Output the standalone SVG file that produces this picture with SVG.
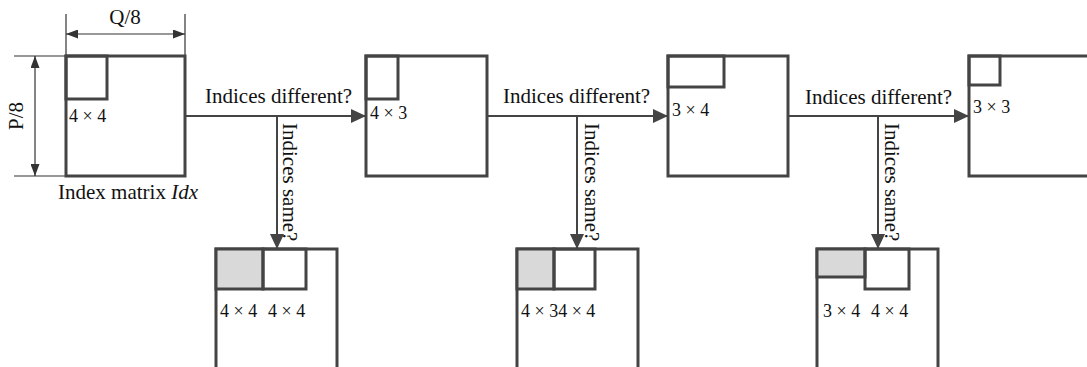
<svg xmlns="http://www.w3.org/2000/svg" width="1087" height="367" viewBox="0 0 1087 367">
  <style>
    text { font-family: "Liberation Serif", "Times New Roman", serif; fill: #111; }
    .lbl { font-size: 21px; }
    .dim { font-size: 18px; }
    .size { font-size: 18px; }
    .box { fill: #fff; stroke: #444; stroke-width: 3; }
    .blk { fill: none; stroke: #444; stroke-width: 3; }
    .shade { fill: #d9d9d9; stroke: #444; stroke-width: 3; }
    .flow { fill: none; stroke: #444; stroke-width: 2; }
    .ext { fill: none; stroke: #333; stroke-width: 1.2; }
  </style>
  <defs>
    <marker id="arrow" markerUnits="userSpaceOnUse" markerWidth="15" markerHeight="14" refX="15" refY="7" orient="auto">
      <path d="M0,0 L15,7 L0,14 z" fill="#444"/>
    </marker>
    <marker id="dimEnd" markerUnits="userSpaceOnUse" markerWidth="12" markerHeight="9" refX="12" refY="4.5" orient="auto">
      <path d="M0,0 L12,4.5 L0,9 z" fill="#333"/>
    </marker>
    <marker id="dimStart" markerUnits="userSpaceOnUse" markerWidth="12" markerHeight="9" refX="0" refY="4.5" orient="auto">
      <path d="M12,0 L0,4.5 L12,9 z" fill="#333"/>
    </marker>
  </defs>

  <!-- dimensions of the index matrix -->
  <g id="dimensions">
    <line class="ext" x1="66" y1="14" x2="66" y2="56"/>
    <line class="ext" x1="185" y1="14" x2="185" y2="56"/>
    <line class="ext" x1="66" y1="34" x2="185" y2="34" marker-start="url(#dimStart)" marker-end="url(#dimEnd)"/>
    <text class="lbl" x="125" y="24" text-anchor="middle">Q/8</text>
    <line class="ext" x1="14" y1="56" x2="66" y2="56"/>
    <line class="ext" x1="14" y1="176" x2="66" y2="176"/>
    <line class="ext" x1="35" y1="56" x2="35" y2="176" marker-start="url(#dimStart)" marker-end="url(#dimEnd)"/>
    <text class="lbl" x="23" y="116" text-anchor="middle" transform="rotate(-90 23 116)">P/8</text>
  </g>

  <!-- top row: index matrix and its successive block sizes -->
  <g id="idx-4x4">
    <rect class="box" x="66" y="56" width="119" height="120"/>
    <rect class="blk" x="66" y="56" width="41" height="43"/>
    <text class="size" x="69" y="122">4 × 4</text>
    <text class="lbl" x="58" y="199">Index matrix <tspan font-style="italic">Idx</tspan></text>
  </g>
  <g id="idx-4x3">
    <rect class="box" x="366" y="56" width="121" height="120"/>
    <rect class="blk" x="366" y="56" width="32" height="43"/>
    <text class="size" x="370" y="119">4 × 3</text>
  </g>
  <g id="idx-3x4">
    <rect class="box" x="668" y="56" width="120" height="120"/>
    <rect class="blk" x="668" y="56" width="56" height="31"/>
    <text class="size" x="672" y="116">3 × 4</text>
  </g>
  <g id="idx-3x3">
    <path class="blk" d="M1090,56 H969 V176 H1090"/>
    <rect class="blk" x="969" y="56" width="31" height="29"/>
    <text class="size" x="973" y="113">3 × 3</text>
  </g>

  <!-- bottom row: merged blocks -->
  <g id="merge-4x4-4x4">
    <rect class="box" x="216" y="249" width="121" height="140"/>
    <rect class="shade" x="216" y="249" width="47" height="40"/>
    <rect class="blk" x="263" y="249" width="43" height="40"/>
    <text class="size" x="220" y="317">4 × 4</text>
    <text class="size" x="268" y="317">4 × 4</text>
  </g>
  <g id="merge-4x3-4x4">
    <rect class="box" x="517" y="249" width="121" height="140"/>
    <rect class="shade" x="517" y="249" width="37" height="40"/>
    <rect class="blk" x="554" y="249" width="41" height="40"/>
    <text class="size" x="521" y="317">4 × 34 × 4</text>
  </g>
  <g id="merge-3x4-4x4">
    <rect class="box" x="817" y="249" width="121" height="140"/>
    <rect class="shade" x="817" y="249" width="48" height="28"/>
    <rect class="blk" x="865" y="249" width="44" height="40"/>
    <text class="size" x="823" y="317">3 × 4</text>
    <text class="size" x="871" y="317">4 × 4</text>
  </g>

  <!-- decision connectors -->
  <g id="connectors">
    <line class="flow" x1="186" y1="116" x2="366" y2="116" marker-end="url(#arrow)"/>
    <line class="flow" x1="277" y1="116" x2="277" y2="249" marker-end="url(#arrow)"/>
    <line class="flow" x1="488" y1="116" x2="668" y2="116" marker-end="url(#arrow)"/>
    <line class="flow" x1="577" y1="116" x2="577" y2="249" marker-end="url(#arrow)"/>
    <line class="flow" x1="789" y1="116" x2="969" y2="116" marker-end="url(#arrow)"/>
    <line class="flow" x1="878" y1="116" x2="878" y2="249" marker-end="url(#arrow)"/>

    <text class="lbl" x="205" y="103">Indices different?</text>
    <text class="lbl" x="503" y="103">Indices different?</text>
    <text class="lbl" x="805" y="104">Indices different?</text>

    <text class="lbl" x="283" y="123" transform="rotate(90 283 123)">Indices same?</text>
    <text class="lbl" x="585" y="123" transform="rotate(90 585 123)">Indices same?</text>
    <text class="lbl" x="885" y="123" transform="rotate(90 885 123)">Indices same?</text>
  </g>
</svg>
